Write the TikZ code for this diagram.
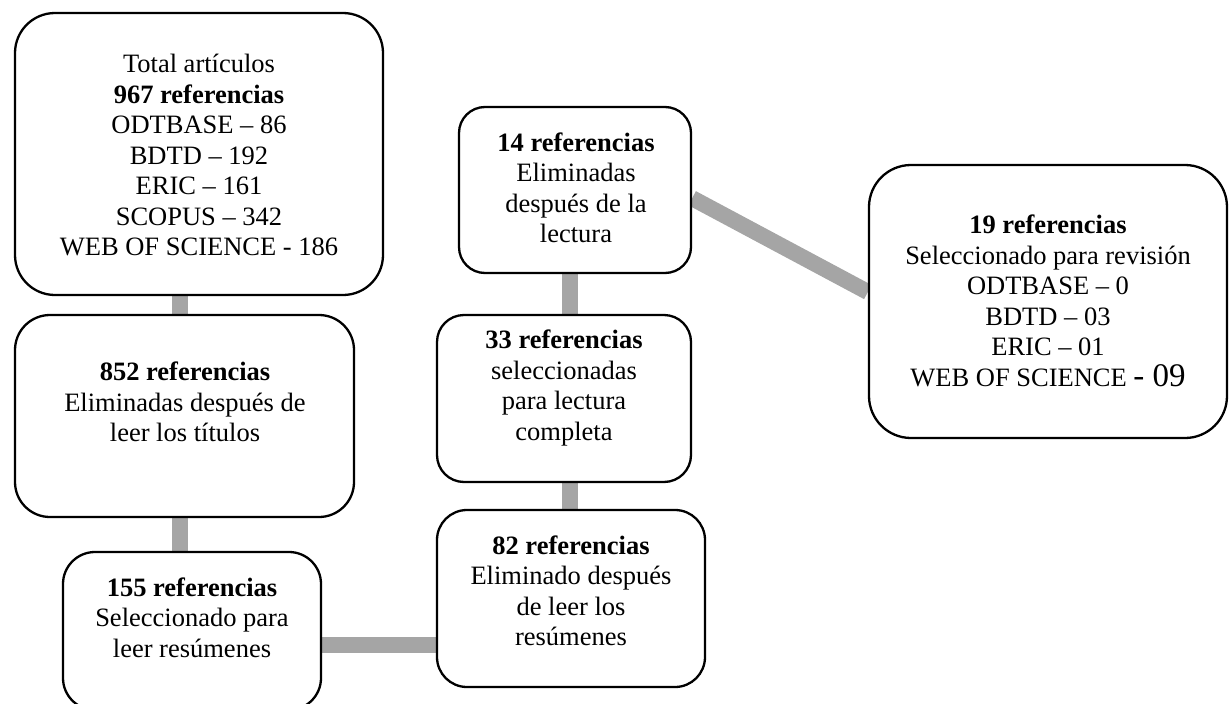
\documentclass[tikz,border=0pt]{standalone}
\usepackage{fontspec}
\setmainfont{Liberation Serif}
\pgfdeclarelayer{bg}
\pgfsetlayers{bg,main}
\definecolor{barcol}{HTML}{A5A5A5}
\tikzset{
  box/.style={draw=black, line width=2.3pt, fill=white, rectangle, inner sep=0pt},
  txt/.style={align=center, inner sep=0pt, text=black, font=\fontsize{26.5}{30.5}\selectfont},
  conn/.style={draw=barcol, line width=16pt, line cap=butt}
}
\begin{document}
\begin{tikzpicture}[x=1pt,y=-1pt]
\useasboundingbox (0,0) rectangle (1232,704);
% boxes
\node[box, minimum width=368pt, minimum height=282pt, rounded corners=40pt] (b1) at (199,154) {};
\node[box, minimum width=339pt, minimum height=202pt, rounded corners=35pt] (b2) at (184.5,416) {};
\node[box, minimum width=258pt, minimum height=158pt, rounded corners=32pt] (b3) at (192,631) {};
\node[box, minimum width=268pt, minimum height=177pt, rounded corners=30pt] (b4) at (571,598.5) {};
\node[box, minimum width=254pt, minimum height=167pt, rounded corners=27pt] (b5) at (564,398.5) {};
\node[box, minimum width=232pt, minimum height=166pt, rounded corners=26pt] (b6) at (575,190) {};
\node[box, minimum width=358pt, minimum height=273pt, rounded corners=42pt] (b7) at (1048,301.5) {};
% texts
\node[txt] (t1) at (199,155) {Total artículos\\\textbf{967 referencias}\\ODTBASE – 86\\BDTD – 192\\ERIC – 161\\SCOPUS – 342\\WEB OF SCIENCE - 186};
\node[txt] (t2) at (185,402) {\textbf{852 referencias}\\Eliminadas después de\\leer los títulos};
\node[txt] (t3) at (192,617.5) {\textbf{155 referencias}\\Seleccionado para\\leer resúmenes};
\node[txt] (t4) at (571,591) {\textbf{82 referencias}\\Eliminado después\\de leer los\\resúmenes};
\node[txt] (t5) at (564,388) {\textbf{33 referencias}\\seleccionadas\\para lectura\\completa};
\node[txt] (t6) at (576,188) {\textbf{14 referencias}\\Eliminadas\\después de la\\lectura};
\node[txt] (t7) at (1048,301) {\textbf{19 referencias}\\Seleccionado para revisión\\ODTBASE – 0\\BDTD – 03\\ERIC – 01\\WEB OF SCIENCE {\fontsize{33}{30.5}\selectfont - 09}};
% connector guides
\coordinate (xl) at (180,0);
\coordinate (xm) at (570,0);
\coordinate (yh) at (0,645);
\begin{pgfonlayer}{bg}
\draw[conn] (b1.south -| xl) -- (b2.north -| xl);
\draw[conn] (b2.south -| xl) -- (b3.north -| xl);
\draw[conn] (b3.east |- yh) -- (b4.west |- yh);
\draw[conn] (b5.south -| xm) -- (b4.north -| xm);
\draw[conn] (b6.south -| xm) -- (b5.north -| xm);
\draw[conn] (b6.-4.4) -- (b7.177.6);
\end{pgfonlayer}
\end{tikzpicture}
\end{document}
